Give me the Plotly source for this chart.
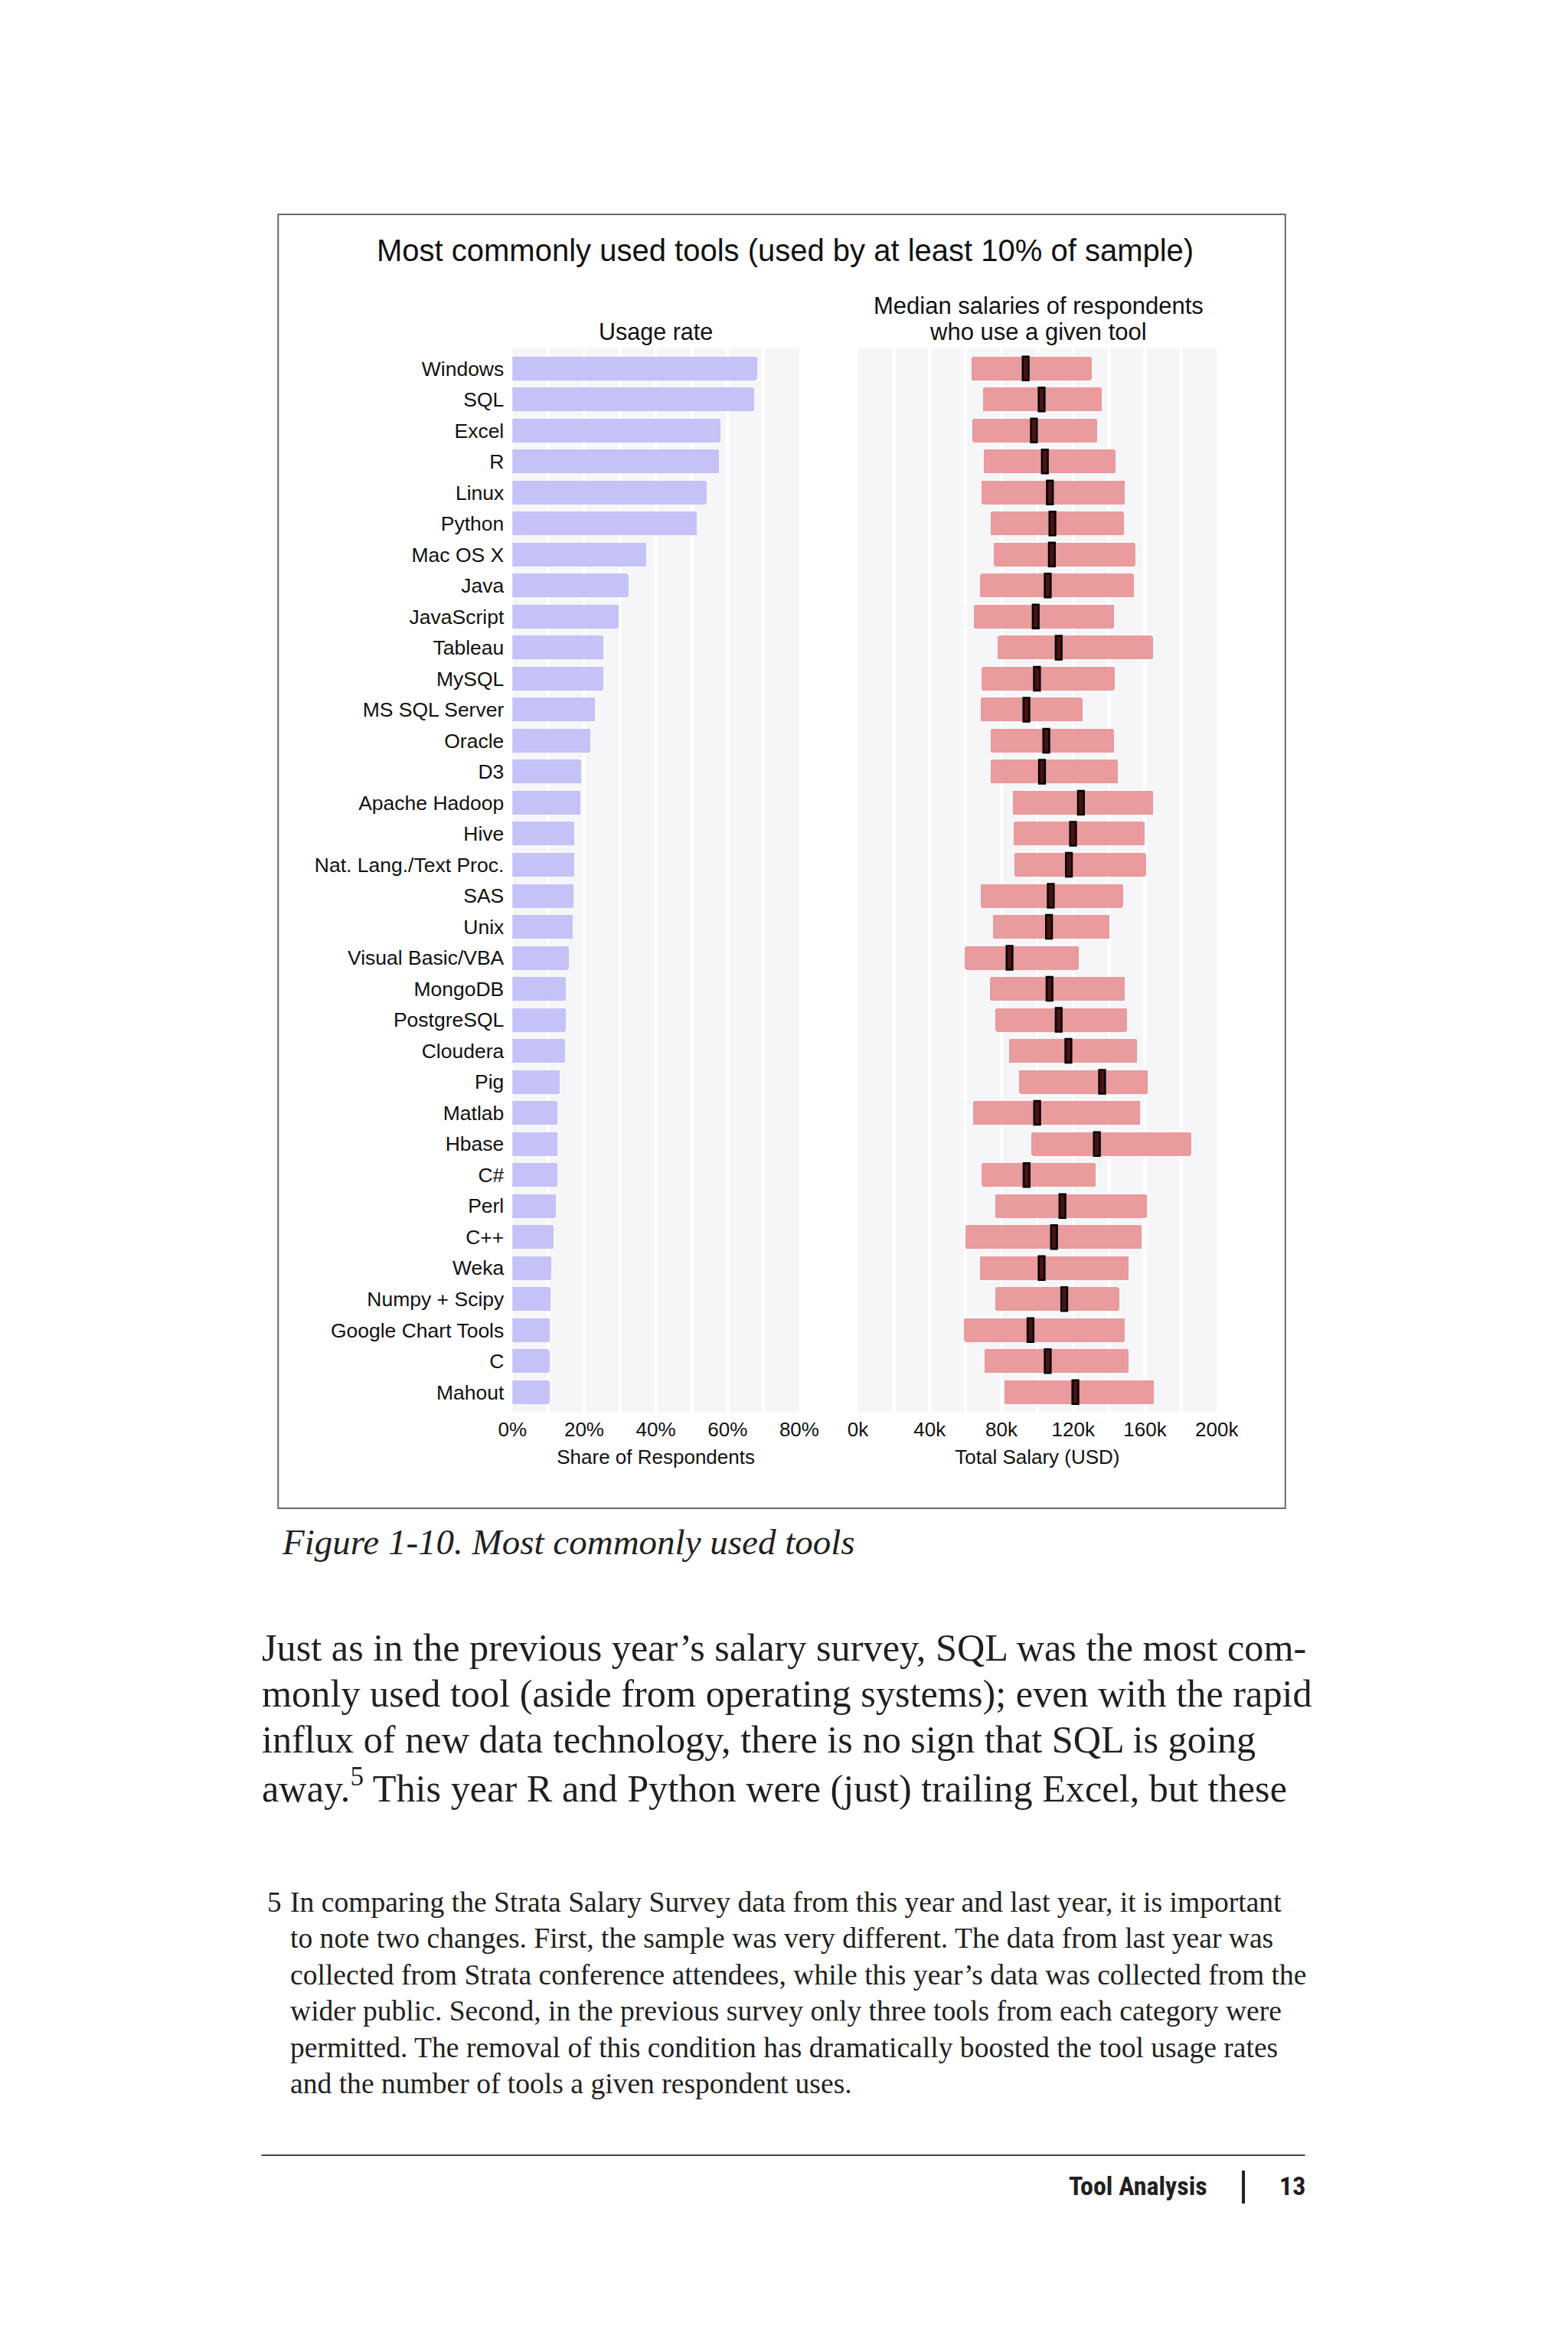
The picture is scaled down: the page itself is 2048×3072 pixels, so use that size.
import plotly.graph_objects as go

W, H = 2048, 3072

tools = ["Windows", "SQL", "Excel", "R", "Linux", "Python", "Mac OS X", "Java",
         "JavaScript", "Tableau", "MySQL", "MS SQL Server", "Oracle", "D3",
         "Apache Hadoop", "Hive", "Nat. Lang./Text Proc.", "SAS", "Unix",
         "Visual Basic/VBA", "MongoDB", "PostgreSQL", "Cloudera", "Pig", "Matlab",
         "Hbase", "C#", "Perl", "C++", "Weka", "Numpy + Scipy", "Google Chart Tools",
         "C", "Mahout"]

usage_share = [0.682, 0.674, 0.580, 0.576, 0.541, 0.515, 0.374, 0.323,
               0.297, 0.254, 0.254, 0.231, 0.217, 0.192,
               0.190, 0.173, 0.173, 0.170, 0.169,
               0.157, 0.149, 0.148, 0.146, 0.132, 0.126,
               0.126, 0.126, 0.121, 0.115, 0.108, 0.107, 0.105,
               0.103, 0.103]

# salaries in thousands of USD
salary_low_k = [63.4, 69.6, 63.9, 70.1, 68.7, 73.9, 75.9, 68.2,
                64.7, 78.0, 69.1, 68.3, 74.1, 73.9,
                86.3, 86.8, 87.3, 68.5, 75.4,
                59.7, 73.7, 76.7, 84.2, 89.8, 64.2,
                96.8, 69.1, 76.4, 60.0, 68.0, 76.7, 59.2,
                70.5, 81.7]

salary_median_k = [93.5, 102.4, 98.1, 104.2, 107.0, 108.4, 108.1, 105.8,
                   99.1, 111.9, 99.8, 93.9, 105.0, 102.6,
                   124.3, 119.9, 117.6, 107.5, 106.5,
                   84.5, 106.8, 111.9, 117.3, 136.1, 99.9,
                   133.2, 94.0, 114.0, 109.3, 102.4, 115.0, 96.2,
                   105.8, 121.2]

salary_high_k = [130.2, 135.9, 133.3, 143.5, 148.7, 148.1, 154.5, 153.8,
                 142.8, 164.4, 143.0, 125.3, 142.7, 145.0,
                 164.6, 159.9, 160.5, 147.7, 140.2,
                 123.2, 148.9, 149.9, 155.6, 161.7, 157.4,
                 185.7, 132.4, 161.0, 158.2, 150.9, 145.5, 148.9,
                 150.9, 165.1]

body_lines = [
    "Just as in the previous year\u2019s salary survey, SQL was the most com-",
    "monly used tool (aside from operating systems); even with the rapid",
    "influx of new data technology, there is no sign that SQL is going",
    "away.<sup>5</sup> This year R and Python were (just) trailing Excel, but these",
]
footnote_lines = [
    "In comparing the Strata Salary Survey data from this year and last year, it is important",
    "to note two changes. First, the sample was very different. The data from last year was",
    "collected from Strata conference attendees, while this year\u2019s data was collected from the",
    "wider public. Second, in the previous survey only three tools from each category were",
    "permitted. The removal of this condition has dramatically boosted the tool usage rates",
    "and the number of tools a given respondent uses.",
]

PURPLE = "#c4c2f7"
RED = "#e99b9d"
PANEL = "#f6f6f8"
SANS = "Liberation Sans, Arial, sans-serif"
SERIF = "Liberation Serif, Times New Roman, serif"
MEDIAN_W = 3.3
BAR_W = 0.765

# the photographed page maps figure x -> 18 + 0.9814 * x; compensate here
X_OFF, X_SCALE = 18.0, 0.9814


def px(x):
    return ((x - X_OFF) / X_SCALE) / W


def py(y):
    return 1 - y / H


fig = go.Figure()

fig.add_trace(go.Bar(
    x=usage_share, y=tools, orientation="h", width=BAR_W,
    marker=dict(color=PURPLE, line=dict(width=0), cornerradius=2),
    xaxis="x", yaxis="y", hoverinfo="skip", showlegend=False))

fig.add_trace(go.Bar(
    x=[h - l for h, l in zip(salary_high_k, salary_low_k)], base=salary_low_k,
    y=tools, orientation="h", width=BAR_W,
    marker=dict(color=RED, line=dict(width=0), cornerradius=2),
    xaxis="x2", yaxis="y2", hoverinfo="skip", showlegend=False))

fig.add_trace(go.Bar(
    x=[MEDIAN_W] * len(tools), base=[m - MEDIAN_W / 2 for m in salary_median_k],
    y=tools, orientation="h", width=BAR_W,
    marker=dict(color="#4a1212", line=dict(color="#000000", width=2.5)),
    xaxis="x2", yaxis="y2", hoverinfo="skip", showlegend=False))

ydom = [py(1845), py(454.5)]
yrange = [len(tools) - 1 + 0.66, -0.66]
tickfont = dict(size=26, family=SANS, color="#111111")

fig.update_layout(
    width=W, height=H,
    margin=dict(l=0, r=0, t=0, b=0),
    paper_bgcolor="#ffffff",
    plot_bgcolor=PANEL,
    barmode="overlay",
    bargap=0,
    font=dict(family=SANS, color="#111111", size=26),
    xaxis=dict(
        domain=[px(671.5), px(1048)], range=[0, 0.8], anchor="y",
        tickmode="linear", tick0=0, dtick=0.2, tickformat=".0%",
        showgrid=True, gridcolor="#ffffff", gridwidth=4.5,
        minor=dict(tickmode="linear", tick0=0, dtick=0.1, showgrid=True,
                   gridcolor="#ffffff", gridwidth=4.5, ticks=""),
        zeroline=False, showline=False,
        ticks="", ticklabelstandoff=4, tickfont=tickfont,
        title=dict(text="Share of Respondents", standoff=12, font=tickfont),
        fixedrange=True),
    yaxis=dict(
        domain=ydom, anchor="x", type="category",
        categoryorder="array", categoryarray=tools,
        range=yrange, autorange=False,
        showgrid=False, zeroline=False, showline=False,
        ticks="", ticklabelstandoff=10,
        tickfont=dict(size=26.5, family=SANS, color="#111111"),
        fixedrange=True),
    xaxis2=dict(
        domain=[px(1125), px(1596)], range=[0, 200], anchor="y2",
        tickmode="linear", tick0=0, dtick=40, ticksuffix="k",
        showgrid=True, gridcolor="#ffffff", gridwidth=4.5,
        minor=dict(tickmode="linear", tick0=0, dtick=20, showgrid=True,
                   gridcolor="#ffffff", gridwidth=4.5, ticks=""),
        zeroline=False, showline=False,
        ticks="", ticklabelstandoff=4, tickfont=tickfont,
        title=dict(text="Total Salary (USD)", standoff=12, font=tickfont),
        fixedrange=True),
    yaxis2=dict(
        domain=ydom, anchor="x2", type="category",
        categoryorder="array", categoryarray=tools,
        range=yrange, autorange=False, matches="y",
        showticklabels=False, showgrid=False, zeroline=False, showline=False,
        ticks="", fixedrange=True),
)

annotations = []


def add_text(text, x, y, size, family, xanchor="center", color="#111111"):
    annotations.append(dict(
        text=text, x=px(x), y=py(y), xref="paper", yref="paper",
        xanchor=xanchor, yanchor="middle", showarrow=False,
        font=dict(size=size, family=family, color=color)))


# chart titles
add_text("Most commonly used tools (used by at least 10% of sample)", 1029, 327, 40, SANS)
add_text("Usage rate", 860, 433, 30.5, SANS)
add_text("Median salaries of respondents", 1362, 399, 31, SANS)
add_text("who use a given tool", 1362, 433, 31, SANS)

# caption
add_text("<i>Figure 1-10. Most commonly used tools</i>", 367, 2014, 47, SERIF, "left", "#231f20")

# body text
for i, line in enumerate(body_lines):
    add_text(line, 341, 2152 + i * 60, 50.3, SERIF, "left", "#231f20")

# footnote
add_text("5", 348, 2484, 37, SERIF, "left", "#231f20")
for i, line in enumerate(footnote_lines):
    add_text(line, 378, 2484 + i * 47.5, 37.6, SERIF, "left", "#231f20")

# footer
FOOT = "Liberation Sans Narrow, Roboto Condensed, Liberation Sans, sans-serif"
add_text("<b>Tool Analysis</b>", 1586, 2855, 34, FOOT, "right", "#231f20")
add_text("<b>13</b>", 1714, 2855, 34, FOOT, "right", "#231f20")

fig.update_layout(annotations=annotations)

shapes = [
    dict(type="rect", xref="paper", yref="paper",
         x0=px(364), x1=px(1686), y0=py(1970), y1=py(280),
         line=dict(color="#6a6a6a", width=2), fillcolor="rgba(0,0,0,0)", layer="below"),
    dict(type="line", xref="paper", yref="paper",
         x0=px(342), x1=px(1712), y0=py(2815), y1=py(2815),
         line=dict(color="#444444", width=2)),
    dict(type="line", xref="paper", yref="paper",
         x0=px(1631), x1=px(1631), y0=py(2878), y1=py(2835),
         line=dict(color="#231f20", width=4)),
]
fig.update_layout(shapes=shapes)

fig.write_html(
    "out.html",
    config={"displayModeBar": False, "staticPlot": True},
    post_script="document.body.style.margin='0';document.body.style.padding='0';"
                "document.documentElement.style.overflow='hidden';"
                "document.body.style.overflow='hidden';")
